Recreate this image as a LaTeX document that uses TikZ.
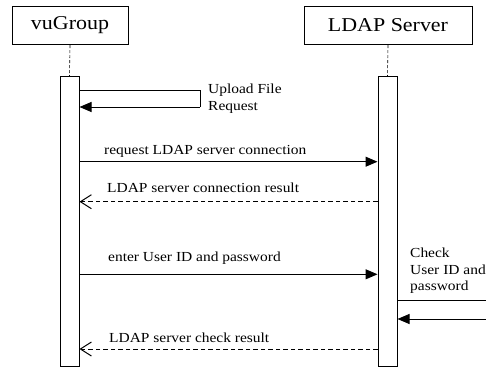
\documentclass[tikz,border=0pt]{standalone}
\usepackage{fontspec}
\setmainfont{Liberation Serif}[FakeStretch=1.12]
\usetikzlibrary{arrows.meta}
\begin{document}
\begin{tikzpicture}[x=1pt,y=-1pt,
  headbox/.style={draw,line width=1pt,inner sep=0pt,minimum height=38pt,font=\fontsize{19.6}{22}\selectfont},
  bar/.style={draw,line width=1pt,fill=white},
  life/.style={line width=0.6pt,dash pattern=on 3pt off 2pt},
  msg/.style={line width=1pt,-{Triangle[length=12pt,width=10pt]}},
  reply/.style={line width=1pt,dash pattern=on 4.5pt off 3pt,-{Straight Barb[length=11pt,width=14pt,line width=1pt]}},
  lbl/.style={font=\fontsize{13.8}{16.5}\selectfont,inner sep=0pt,align=left}]
\useasboundingbox (0,0) rectangle (486,368);
\node[headbox,minimum width=116pt] (vu) at (70,25.5) {vuGroup};
\node[headbox,minimum width=168pt] (ldap) at (388,25.5) {LDAP Server};
\node[bar,minimum width=19pt,minimum height=290pt,inner sep=0pt,anchor=north] (vubar) at (69.5,76) {};
\node[bar,minimum width=19pt,minimum height=290pt,inner sep=0pt,anchor=north] (ldbar) at (387.5,76) {};
\draw[life] (vu.south) -- (vubar.north);
\draw[life] (ldap.south) -- (ldbar.north);
% self message on vuGroup
\coordinate (u1) at (200,90.7);
\coordinate (u2) at (200,107);
\draw[line width=1pt] (vubar.east |- u1) -- (u1) -- (u2);
\draw[msg] (u2) -- (vubar.east |- u2);
\node[lbl,anchor=base west] (ulbl) at (208,110.3) {Upload File\\Request};
% request connection
\coordinate (m1) at (0,161.7);
\draw[msg] (vubar.east |- m1) -- (ldbar.west |- m1);
\node[lbl,anchor=base west] (m1lbl) at (104,154.3) {request LDAP server connection};
% connection result
\coordinate (m2) at (0,201.7);
\draw[reply] (ldbar.west |- m2) -- (vubar.east |- m2);
\node[lbl,anchor=base west] (m2lbl) at (107,192.7) {LDAP server connection result};
% enter user id
\coordinate (m3) at (0,274.3);
\draw[msg] (vubar.east |- m3) -- (ldbar.west |- m3);
\node[lbl,anchor=base west] (m3lbl) at (108,261.7) {enter User ID and password};
% check self message
\coordinate (c1) at (486,300.7);
\coordinate (c2) at (486,319);
\draw[line width=1pt] (ldbar.east |- c1) -- (c1);
\draw[msg] (c2) -- (ldbar.east |- c2);
\node[lbl,anchor=base west] (clbl) at (410,290.7) {Check\\User ID and\\password};
% check result
\coordinate (m4) at (0,349);
\draw[reply] (ldbar.west |- m4) -- (vubar.east |- m4);
\node[lbl,anchor=base west] (m4lbl) at (109,342) {LDAP server check result};
\end{tikzpicture}
\end{document}
